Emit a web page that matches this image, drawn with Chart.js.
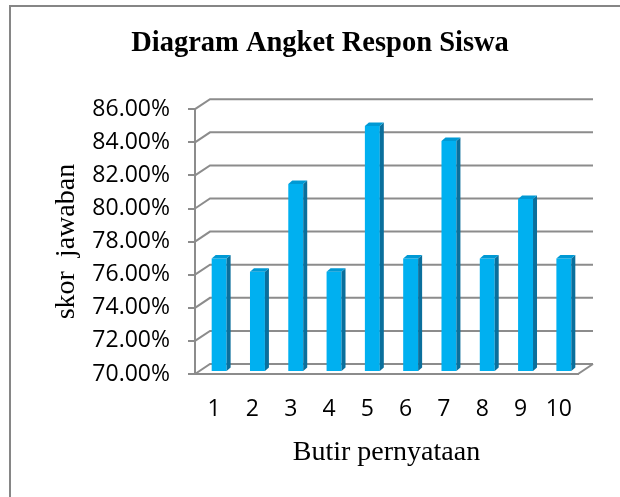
<!DOCTYPE html>
<html>
<head>
<meta charset="utf-8">
<title>Diagram Angket Respon Siswa</title>
<script src="https://cdn.jsdelivr.net/npm/chart.js@4"></script>
<style>
  html, body { margin: 0; padding: 0; background: #ffffff; }
  #wrap { width: 620px; height: 497px; position: relative; }
</style>
</head>
<body>
<div id="wrap"><canvas id="surveyChart" width="620" height="497"></canvas></div>
<script>
const categories = ["1", "2", "3", "4", "5", "6", "7", "8", "9", "10"];
const scores = [76.8, 76.0, 81.3, 76.0, 84.8, 76.8, 83.9, 76.8, 80.4, 76.8];
const yMin = 70;
const yMax = 86;
const yStep = 2;

const chartTitle = "Diagram Angket Respon Siswa";
const xTitle = "Butir pernyataan";
const yTitle = "skor  jawaban";

const gridColor = "#8c8c8c";
const frontColor = "#00b0f0";
const sideColor = "#0a6f9c";
const topColor = "#0099d4";

const depthX = 15;
const depthY = 10;
const barShiftX = 5;
const barShiftY = -3;

const chartCanvas = document.getElementById("surveyChart");

const framePlugin = {
  id: "frame3d",
  beforeDraw(chart) {
    const ctx = chart.ctx;
    ctx.save();
    ctx.fillStyle = "#ffffff";
    ctx.fillRect(0, 0, chart.width, chart.height);
    ctx.strokeStyle = "#868686";
    ctx.lineWidth = 2;
    ctx.strokeRect(10, 6, 700, 600);
    ctx.restore();
  },
  beforeDatasetsDraw(chart) {
    const ctx = chart.ctx;
    const area = chart.chartArea;
    const yScale = chart.scales.y;

    ctx.save();
    ctx.strokeStyle = gridColor;
    ctx.lineWidth = 2;
    yScale.ticks.forEach((tick) => {
      const y = yScale.getPixelForValue(tick.value);
      ctx.beginPath();
      ctx.moveTo(area.left, y);
      ctx.lineTo(area.left + depthX, y - depthY);
      ctx.lineTo(area.right + depthX, y - depthY);
      ctx.stroke();
    });
    ctx.beginPath();
    ctx.moveTo(area.right, area.bottom);
    ctx.lineTo(area.right + depthX, area.bottom - depthY);
    ctx.stroke();
    ctx.restore();

    ctx.save();
    ctx.translate(barShiftX, barShiftY);
  },
  afterDatasetsDraw(chart) {
    const ctx = chart.ctx;
    const area = chart.chartArea;
    const meta = chart.getDatasetMeta(0);

    meta.data.forEach((bar) => {
      const props = bar.getProps(["x", "y", "width", "base"], true);
      const x0 = props.x - props.width / 2;
      const x1 = props.x + props.width / 2;
      const base = Math.min(props.base, area.bottom);
      const dx = 4;
      const dy = 3.5;

      ctx.fillStyle = sideColor;
      ctx.beginPath();
      ctx.moveTo(x1, props.y);
      ctx.lineTo(x1 + dx, props.y - dy);
      ctx.lineTo(x1 + dx, base - dy);
      ctx.lineTo(x1, base);
      ctx.closePath();
      ctx.fill();

      ctx.fillStyle = topColor;
      ctx.beginPath();
      ctx.moveTo(x0, props.y);
      ctx.lineTo(x1, props.y);
      ctx.lineTo(x1 + dx, props.y - dy);
      ctx.lineTo(x0 + dx, props.y - dy);
      ctx.closePath();
      ctx.fill();
    });

    ctx.restore();
  },
};

new Chart(chartCanvas, {
  type: "bar",
  data: {
    labels: categories,
    datasets: [
      {
        label: "skor",
        data: scores,
        backgroundColor: frontColor,
        borderWidth: 0,
        barPercentage: 0.39,
        categoryPercentage: 1,
      },
    ],
  },
  options: {
    responsive: false,
    animation: false,
    devicePixelRatio: 1,
    layout: {
      padding: { left: 62, right: 42, top: 0, bottom: 0 },
    },
    plugins: {
      legend: { display: false },
      tooltip: { enabled: false },
      title: {
        display: true,
        text: chartTitle,
        color: "#000000",
        font: { family: "Liberation Serif", size: 28.5, weight: "bold", lineHeight: 1.2 },
        padding: { top: 27, bottom: 48 },
      },
    },
    scales: {
      x: {
        grid: { display: false, drawTicks: false },
        border: { display: true, color: gridColor, width: 2 },
        ticks: {
          color: "#000000",
          padding: 22,
          font: { family: "Open Sans", size: 23 },
          maxRotation: 0,
        },
        title: {
          display: true,
          text: xTitle,
          color: "#000000",
          font: { family: "Liberation Serif", size: 28 },
          padding: { top: 0, bottom: 28 },
        },
        afterFit(scale) {
          scale.height = 497 - 374;
        },
      },
      y: {
        min: yMin,
        max: yMax,
        grid: {
          display: true,
          drawOnChartArea: false,
          drawTicks: true,
          tickLength: 7,
          color: gridColor,
          lineWidth: 2,
        },
        border: { display: true, color: gridColor, width: 2 },
        ticks: {
          stepSize: yStep,
          color: "#000000",
          padding: 18,
          font: { family: "Open Sans", size: 23 },
          callback: (value) => value.toFixed(2) + "%",
        },
        title: {
          display: true,
          text: yTitle,
          color: "#000000",
          font: { family: "Liberation Serif", size: 28 },
          padding: { top: -12, bottom: 0 },
        },
        afterFit(scale) {
          scale.width = 195 - 62;
        },
      },
    },
  },
  plugins: [framePlugin],
});
</script>
</body>
</html>
